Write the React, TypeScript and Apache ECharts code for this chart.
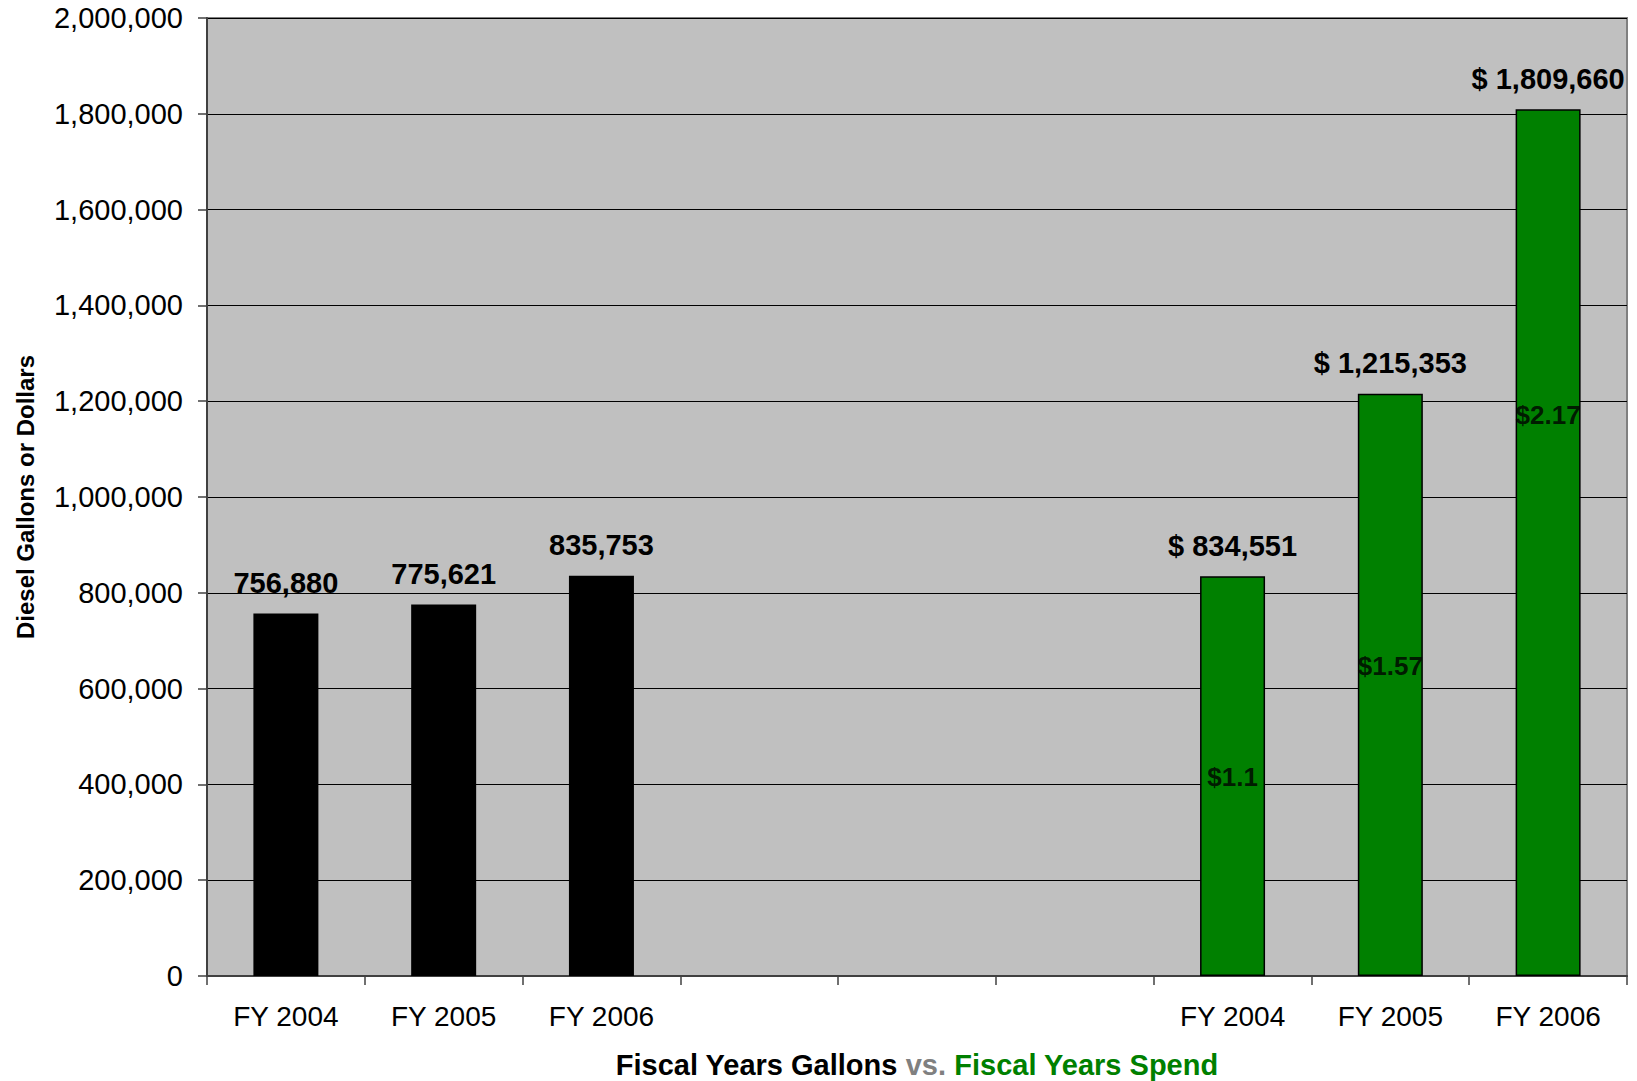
import React, { useEffect, useRef } from "react";
import * as echarts from "echarts";

const categories = ["FY 2004", "FY 2005", "FY 2006", "", "", "", "FY 2004", "FY 2005", "FY 2006"];
const gallons = [756880, 775621, 835753, null, null, null, null, null, null];
const spend = [null, null, null, null, null, null, 834551, 1215353, 1809660];
const priceLabels = ["", "", "", "", "", "", "$1.1", "$1.57", "$2.17"];
const priceLabelLevels = [null, null, null, null, null, null, 415000, 647000, 1171000];
const yTicks = { min: 0, max: 2000000, interval: 200000 };

const FONT = "'Liberation Sans', Arial, sans-serif";
const fmt = (v: number) => v.toLocaleString("en-US");

export default function App() {
  const ref = useRef<HTMLDivElement>(null);
  useEffect(() => {
    document.body.style.margin = "0";
    const chart = echarts.init(ref.current!, null, { renderer: "svg" });
    chart.setOption({
      animation: false,
      backgroundColor: "#ffffff",
      grid: {
        left: 207,
        top: 18,
        right: 10,
        bottom: 105,
        outerBoundsMode: "none",
        containLabel: false,
        show: true,
        backgroundColor: "#C0C0C0",
        borderColor: "#808080",
        borderWidth: 2,
      },
      xAxis: {
        type: "category",
        data: categories,
        boundaryGap: true,
        axisLine: { show: true, lineStyle: { color: "#404040", width: 2 } },
        axisTick: { show: true, length: 9, interval: 0, lineStyle: { color: "#404040", width: 1.5 } },
        axisLabel: { interval: 0, color: "#000", fontFamily: FONT, fontSize: 28, margin: 26 },
        splitLine: { show: false },
        name: "{a|Fiscal Years Gallons }{b|vs. }{c|Fiscal Years Spend}",
        nameLocation: "middle",
        nameGap: 74,
        nameTextStyle: {
          rich: {
            a: { color: "#000", fontWeight: "bold", fontSize: 29, fontFamily: FONT },
            b: { color: "#808080", fontWeight: "bold", fontSize: 29, fontFamily: FONT },
            c: { color: "#008000", fontWeight: "bold", fontSize: 29, fontFamily: FONT },
          },
        },
      },
      yAxis: {
        type: "value",
        min: yTicks.min,
        max: yTicks.max,
        interval: yTicks.interval,
        axisLine: { show: true, lineStyle: { color: "#404040", width: 2 } },
        axisTick: { show: true, length: 9, lineStyle: { color: "#404040", width: 1.5 } },
        axisLabel: { color: "#000", fontFamily: FONT, fontSize: 29, margin: 24, formatter: (v: number) => fmt(v) },
        splitLine: { show: true, lineStyle: { color: "#000", width: 1.2 } },
        name: "Diesel Gallons or Dollars",
        nameLocation: "middle",
        nameRotate: 90,
        nameGap: 170,
        nameTextStyle: { color: "#000", fontWeight: "bold", fontSize: 24, fontFamily: FONT },
      },
      series: [
        {
          type: "bar",
          name: "Gallons",
          data: gallons,
          barWidth: 65,
          barGap: "-100%",
          itemStyle: { color: "#000000" },
          label: {
            show: true,
            position: "top",
            distance: 16,
            color: "#000",
            fontWeight: "bold",
            fontSize: 29,
            fontFamily: FONT,
            formatter: (p: any) => fmt(p.value),
          },
        },
        {
          type: "bar",
          name: "Spend",
          data: spend,
          barWidth: 65,
          barGap: "-100%",
          itemStyle: { color: "#008000", borderColor: "#000", borderWidth: 1.5 },
          label: {
            show: true,
            position: "top",
            distance: 16,
            color: "#000",
            fontWeight: "bold",
            fontSize: 29,
            fontFamily: FONT,
            formatter: (p: any) => "$ " + fmt(p.value),
          },
        },
        {
          type: "scatter",
          name: "Price",
          data: priceLabelLevels,
          symbolSize: 0,
          z: 5,
          label: {
            show: true,
            position: "inside",
            color: "#000",
            fontWeight: "bold",
            fontSize: 26,
            fontFamily: FONT,
            formatter: (p: any) => priceLabels[p.dataIndex],
          },
        },
      ],
    });
    return () => chart.dispose();
  }, []);
  return <div ref={ref} style={{ width: 1637, height: 1081 }} />;
}
